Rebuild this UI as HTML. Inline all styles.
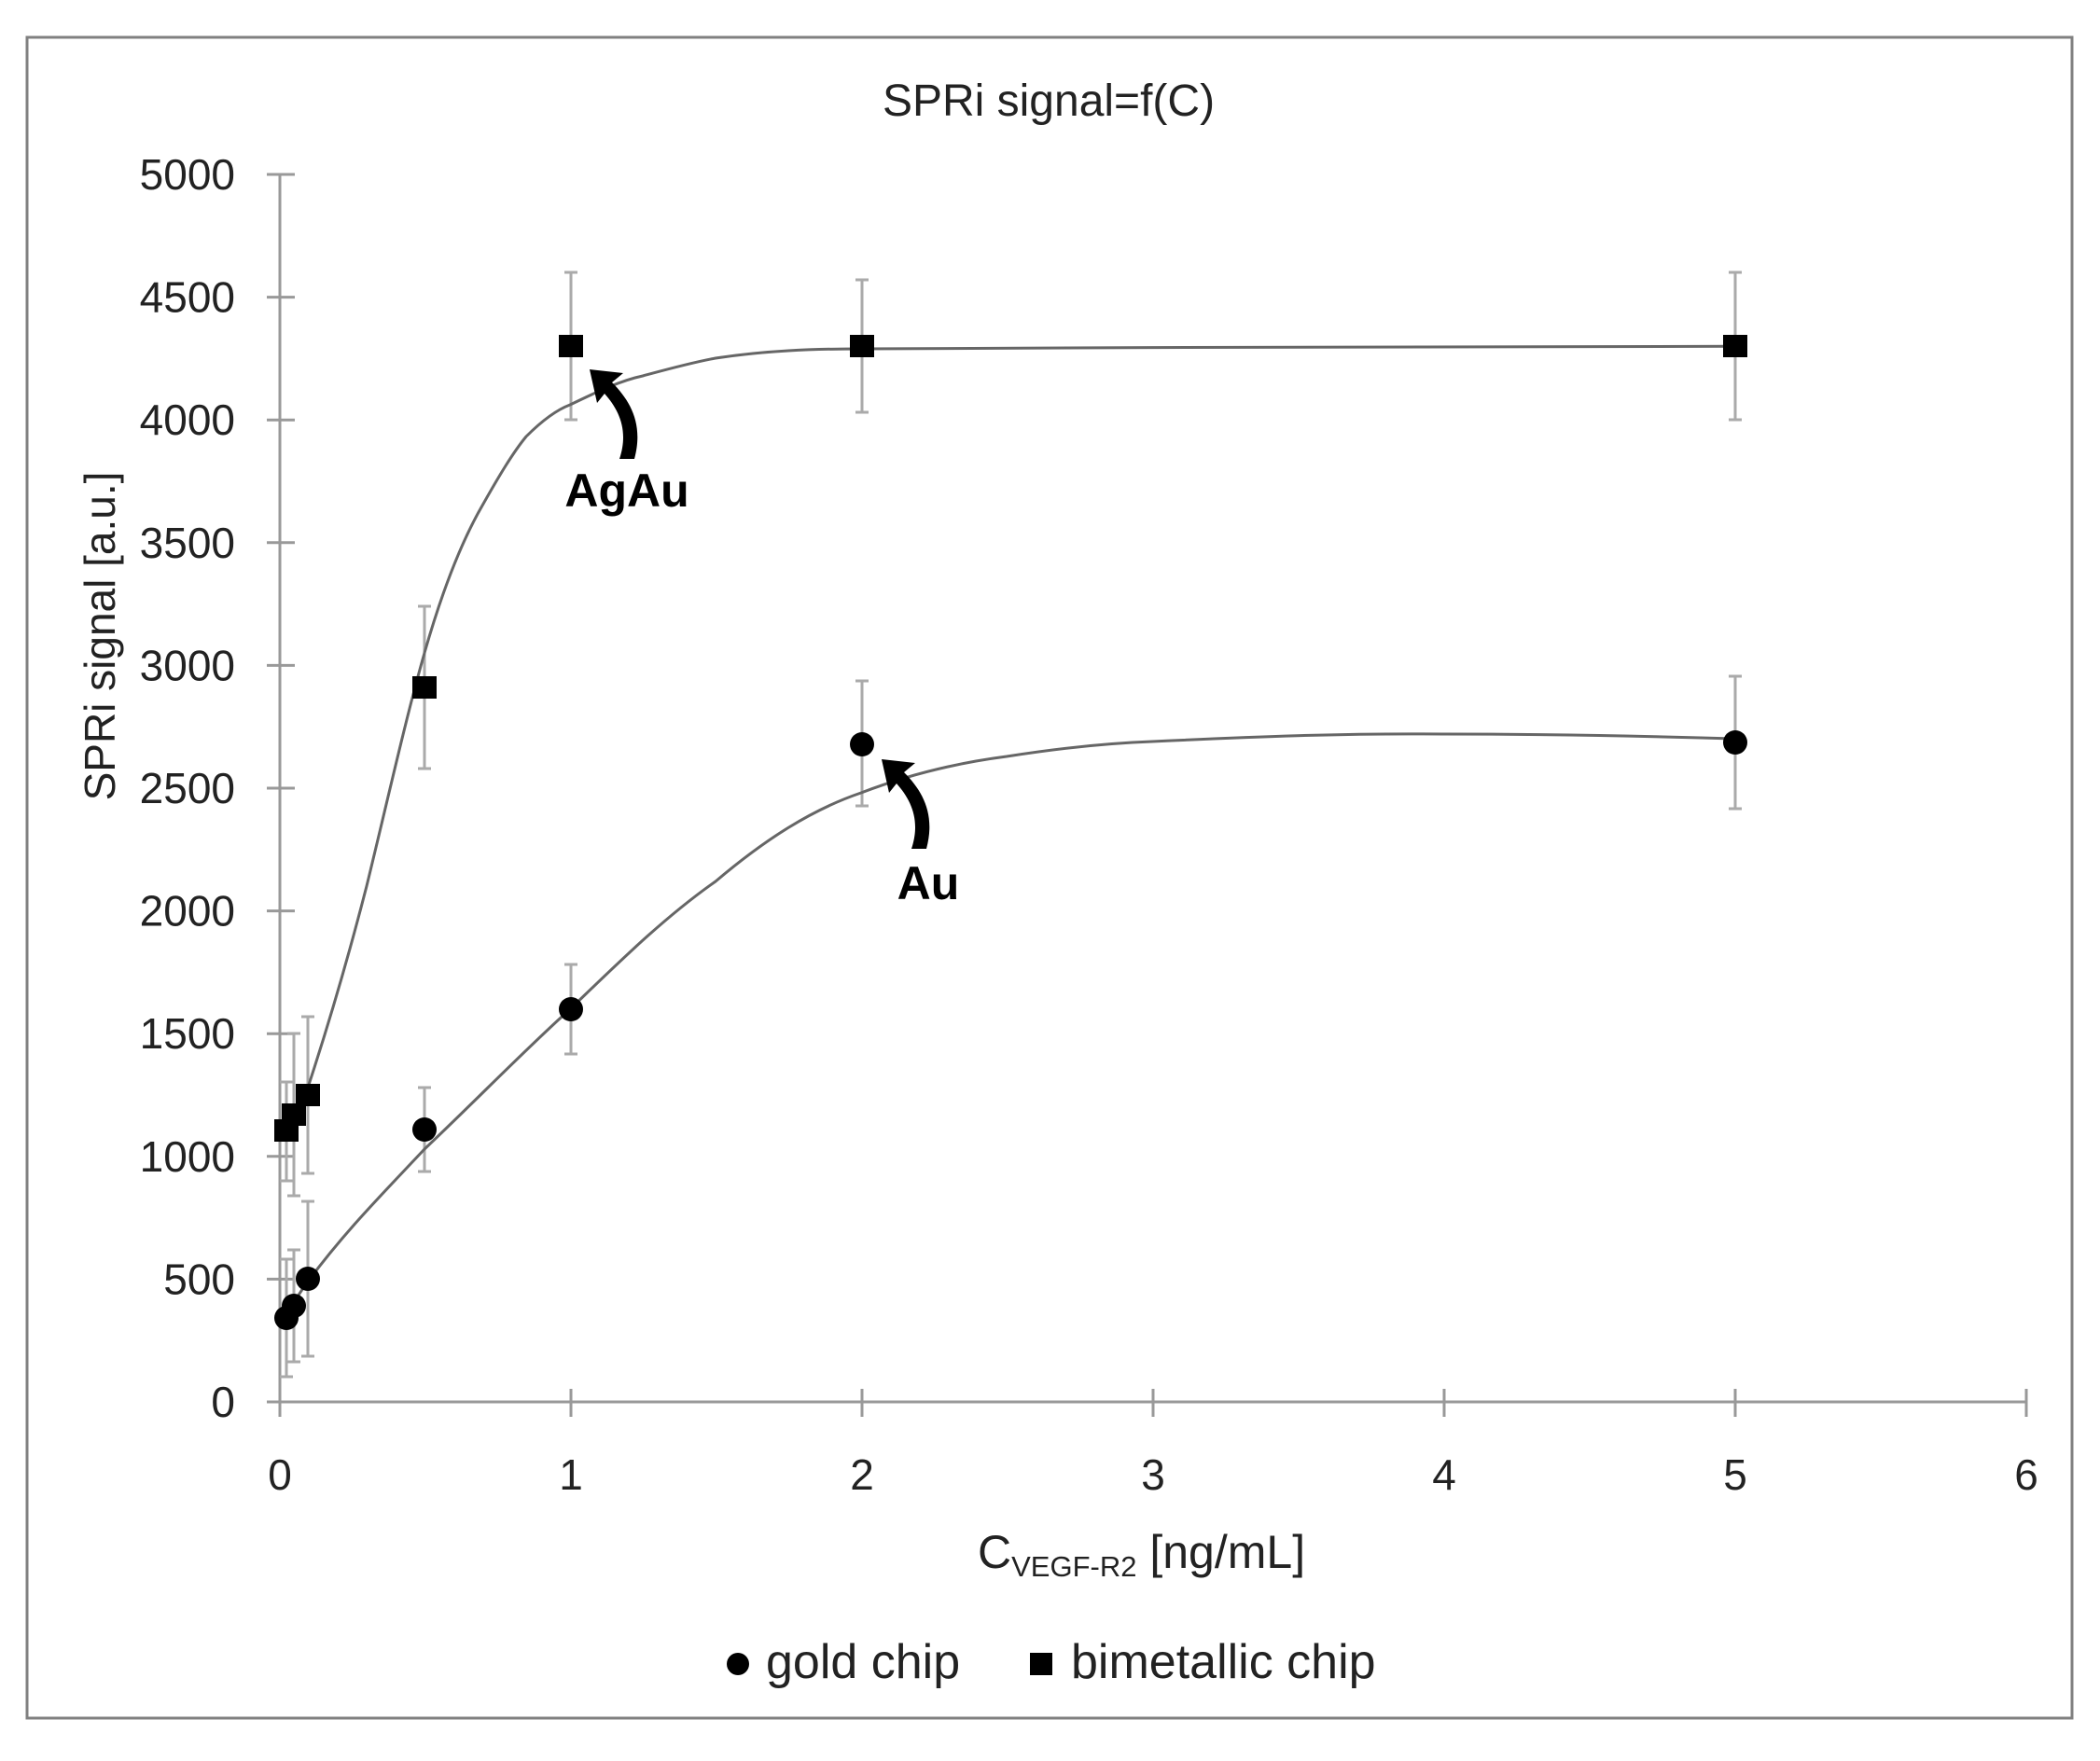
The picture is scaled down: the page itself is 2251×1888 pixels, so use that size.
<!DOCTYPE html>
<html><head><meta charset="utf-8"><style>
html,body{margin:0;padding:0;background:#fff;}
svg{display:block;font-family:"Liberation Sans",sans-serif;}
</style></head><body>
<svg width="2251" height="1888" viewBox="0 0 2251 1888" xmlns="http://www.w3.org/2000/svg">
<rect x="0" y="0" width="2251" height="1888" fill="#fff"/>
<rect x="29" y="40" width="2192" height="1802" fill="none" stroke="#808080" stroke-width="3"/>
<text x="1124" y="124" font-size="48" text-anchor="middle" fill="#222">SPRi signal=f(C)</text>
<g stroke="#999" stroke-width="3" fill="none">
<line x1="300" y1="187" x2="300" y2="1503"/>
<line x1="300" y1="1503" x2="2172" y2="1503"/>
<line x1="286" y1="187" x2="316" y2="187"/>
<line x1="286" y1="318.6" x2="316" y2="318.6"/>
<line x1="286" y1="450.2" x2="316" y2="450.2"/>
<line x1="286" y1="581.8" x2="316" y2="581.8"/>
<line x1="286" y1="713.4" x2="316" y2="713.4"/>
<line x1="286" y1="845" x2="316" y2="845"/>
<line x1="286" y1="976.6" x2="316" y2="976.6"/>
<line x1="286" y1="1108.2" x2="316" y2="1108.2"/>
<line x1="286" y1="1239.8" x2="316" y2="1239.8"/>
<line x1="286" y1="1371.4" x2="316" y2="1371.4"/>
<line x1="286" y1="1503" x2="316" y2="1503"/>
<line x1="300" y1="1489" x2="300" y2="1519"/>
<line x1="612" y1="1489" x2="612" y2="1519"/>
<line x1="924" y1="1489" x2="924" y2="1519"/>
<line x1="1236" y1="1489" x2="1236" y2="1519"/>
<line x1="1548" y1="1489" x2="1548" y2="1519"/>
<line x1="1860" y1="1489" x2="1860" y2="1519"/>
<line x1="2172" y1="1489" x2="2172" y2="1519"/>
</g>
<g font-size="46" fill="#222" text-anchor="end">
<text x="252" y="203">5000</text>
<text x="252" y="334.6">4500</text>
<text x="252" y="466.2">4000</text>
<text x="252" y="597.8">3500</text>
<text x="252" y="729.4">3000</text>
<text x="252" y="861">2500</text>
<text x="252" y="992.6">2000</text>
<text x="252" y="1124.2">1500</text>
<text x="252" y="1255.8">1000</text>
<text x="252" y="1387.4">500</text>
<text x="252" y="1519">0</text>
</g>
<g font-size="46" fill="#222" text-anchor="middle">
<text x="300" y="1597">0</text>
<text x="612" y="1597">1</text>
<text x="924" y="1597">2</text>
<text x="1236" y="1597">3</text>
<text x="1548" y="1597">4</text>
<text x="1860" y="1597">5</text>
<text x="2172" y="1597">6</text>
</g>
<text x="1048" y="1681" font-size="50" fill="#222">C<tspan font-size="31" dy="9">VEGF-R2</tspan><tspan dy="-9"> [ng/mL]</tspan></text>
<text transform="translate(123,682) rotate(-90)" font-size="46" fill="#222" text-anchor="middle">SPRi signal [a.u.]</text>
<g stroke="#aaa" stroke-width="3" fill="none">
<path d="M307 1160v106M300 1160h14M300 1266h14"/>
<path d="M315 1108v174M308 1108h14M308 1282h14"/>
<path d="M330 1090v168M323 1090h14M323 1258h14"/>
<path d="M455 650v174M448 650h14M448 824h14"/>
<path d="M612 292v158M605 292h14M605 450h14"/>
<path d="M924 300v142M917 300h14M917 442h14"/>
<path d="M1860 292v158M1853 292h14M1853 450h14"/>
<path d="M307 1350v126M300 1350h14M300 1476h14"/>
<path d="M315 1340v120M308 1340h14M308 1460h14"/>
<path d="M330 1288v166M323 1288h14M323 1454h14"/>
<path d="M455 1166v90M448 1166h14M448 1256h14"/>
<path d="M612 1034v96M605 1034h14M605 1130h14"/>
<path d="M924 730v134M917 730h14M917 864h14"/>
<path d="M1860 725v142M1853 725h14M1853 867h14"/>
</g>
<g stroke="#666" stroke-width="3" fill="none" stroke-linejoin="round">
<path d="M307 1211 C318 1190,325 1180,330 1166 C355 1090,375 1020,393 950 C415 860,435 770,455 700 C475 630,495 580,517 542 C535 510,550 485,564 468 C580 452,595 440,611 434 C640 420,665 408,689 403 C715 396,740 389,767 384 C820 376,870 374,923 374 L1235 372.6 L1859 371.3"/>
<path d="M307 1413 C315 1395,322 1385,330 1374 C370 1320,410 1280,455 1232 C510 1180,560 1128,611 1082 C660 1035,710 985,767 945 C820 900,870 868,923 850 C975 830,1025 818,1079 811 C1130 803,1180 797,1235 795 C1340 790,1440 786,1547 787 C1650 787,1760 789,1859 792"/>
</g>
<g fill="#000">
<rect x="294" y="1200" width="26" height="24"/>
<rect x="302" y="1183" width="26" height="24"/>
<rect x="317" y="1162" width="26" height="24"/>
<rect x="442" y="725" width="26" height="24"/>
<rect x="599" y="359" width="26" height="24"/>
<rect x="911" y="359" width="26" height="24"/>
<rect x="1847" y="359" width="26" height="24"/>
<circle cx="307" cy="1413" r="13"/>
<circle cx="315" cy="1400" r="13"/>
<circle cx="330" cy="1371" r="13"/>
<circle cx="455" cy="1211" r="13"/>
<circle cx="612" cy="1082" r="13"/>
<circle cx="924" cy="798" r="13"/>
<circle cx="1860" cy="796" r="13"/>
</g>
<g fill="#000">
<path d="M680 492 C690 455,676 430,656 410 L668 400 L632 396 L640 432 L648 422 C664 440,674 462,664 492 Z"/>
<path d="M993 910 C1003 873,989 848,969 828 L981 818 L945 814 L953 850 L961 840 C977 858,987 880,977 910 Z"/>
</g>
<text x="672" y="543" font-size="50" font-weight="bold" text-anchor="middle" fill="#000">AgAu</text>
<text x="995" y="964" font-size="50" font-weight="bold" text-anchor="middle" fill="#000">Au</text>
<circle cx="791" cy="1784" r="12" fill="#000"/>
<text x="821" y="1799" font-size="52" fill="#222">gold chip</text>
<rect x="1104" y="1772" width="24" height="24" fill="#000"/>
<text x="1148" y="1799" font-size="52" fill="#222">bimetallic chip</text>
</svg>
</body></html>
